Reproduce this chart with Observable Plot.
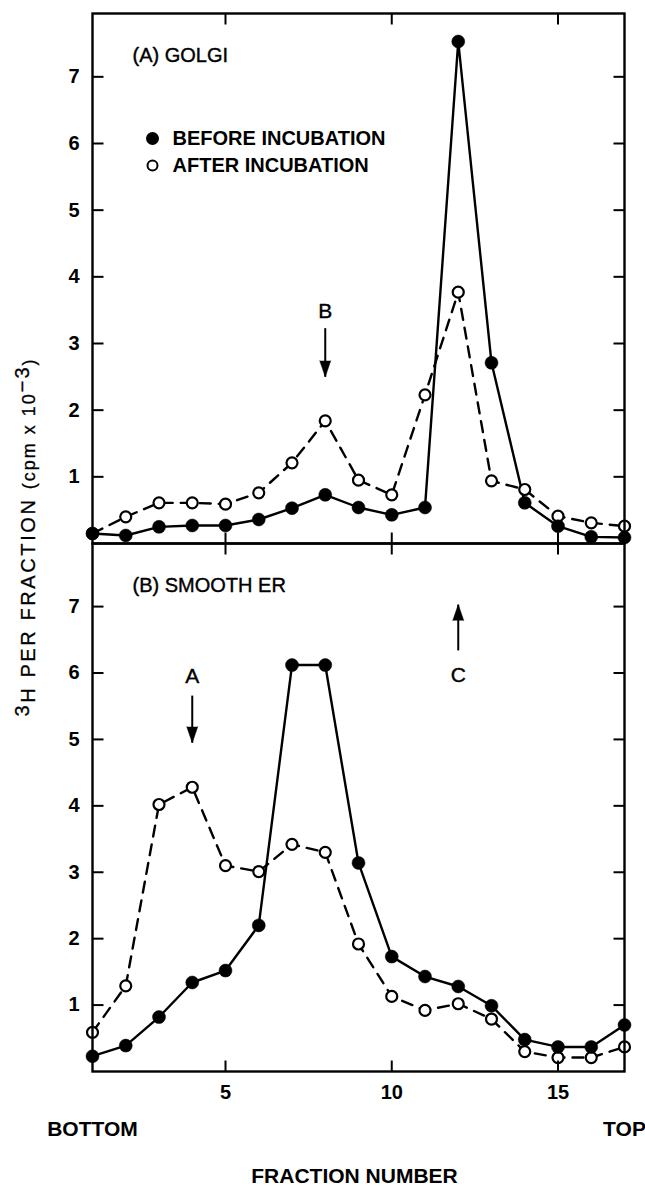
<!DOCTYPE html>
<html><head><meta charset="utf-8">
<script src="https://cdn.jsdelivr.net/npm/d3@7"></script>
<script src="https://cdn.jsdelivr.net/npm/@observablehq/plot@0.6"></script>
<style>
body{margin:0;background:#fff;}
#wrap{position:relative;width:645px;height:1186px;overflow:hidden;font-family:"Liberation Sans",Arial,sans-serif;color:#000;}
#wrap > svg{position:absolute;left:0;overflow:visible;background:transparent;}
#ylab{position:absolute;left:28px;top:537px;transform:translate(-50%,-50%) rotate(-90deg);white-space:nowrap;font-size:20px;letter-spacing:2.6px;-webkit-text-stroke:0.3px #000;}
#ylab sup{font-size:20px;vertical-align:0.3em;line-height:0;}
#ylab .sm{font-size:18px;letter-spacing:2px;}
</style></head><body><div id="wrap"><div id="ylab"><sup>3</sup>H PER FRACTION <span class="sm">(cpm x 10<sup>−3</sup>)</span></div></div>
<script>
const fractions = [1,2,3,4,5,6,7,8,9,10,11,12,13,14,15,16,17];
const golgiBefore = [0.15,0.12,0.25,0.27,0.27,0.36,0.53,0.73,0.54,0.43,0.54,7.53,2.71,0.61,0.26,0.1,0.09];
const golgiAfter  = [0.15,0.4,0.61,0.61,0.59,0.76,1.21,1.84,0.95,0.73,2.23,3.77,0.94,0.81,0.41,0.31,0.26];
const erBefore = [0.23,0.39,0.82,1.34,1.52,2.2,6.12,6.12,3.14,1.73,1.43,1.28,0.99,0.48,0.37,0.37,0.7];
const erAfter  = [0.59,1.29,4.02,4.28,3.1,3.01,3.42,3.3,1.92,1.13,0.92,1.02,0.79,0.3,0.21,0.21,0.37];
const yTicks = [1,2,3,4,5,6,7];
const xTicks = [5,10,15];
const panelLabels = ["(A) GOLGI","(B) SMOOTH ER"];
const legendLabels = ["BEFORE INCUBATION","AFTER INCUBATION"];
const xTitle = "FRACTION NUMBER";
const endLabels = [{x:1,t:"BOTTOM"},{x:17,t:"TOP"}];
// annotation arrows (fraction, label value, tail value, tip value)
const golgiArrows = [{x:8,label:"B",ly:3.48,y1:3.23,y2:2.5}];
const erArrows = [{x:4,label:"A",ly:5.95,y1:5.66,y2:4.95},{x:12,label:"C",ly:5.96,y1:6.34,y2:7.03}];

const XD = [1,17], YD = [0,7.95];
const W = 645, ML = 92, MR = 21, MT = 13;
const FW = W - ML - MR;
const TICK = 11;
const ink = "#000";
const rows = (ys) => fractions.map((f,i)=>({x:f,y:ys[i]}));
const fmt = d3.format("d");

function arrowMarks(arr){
  return [
    Plot.link(arr,{x1:"x",x2:"x",y1:"y1",y2:"y2",stroke:ink,strokeWidth:2}),
    Plot.vector(arr,{x:"x",y:"y2",anchor:"end",length:16,r:5.5,shape:"spike",rotate:d=>d.y2<d.y1?180:0,fill:ink,stroke:ink,strokeWidth:0.5}),
    Plot.text(arr,{x:"x",y:"ly",text:"label",fontSize:21,fill:ink,stroke:ink,strokeWidth:0.4,lineAnchor:"middle"})
  ];
}

function axisMarks(FH, showBottomLabels){
  // inward tick lengths expressed through the scales' pixel-per-unit ratio
  const dxu = TICK * (XD[1]-XD[0]) / FW;
  const dyu = TICK * (YD[1]-YD[0]) / FH;
  const tk = {stroke:ink,strokeWidth:2};
  const marks = [
    Plot.link(yTicks,{x1:()=>XD[0],x2:()=>XD[0]+dxu,y1:d=>d,y2:d=>d,...tk}),
    Plot.link(yTicks,{x1:()=>XD[1]-dxu,x2:()=>XD[1],y1:d=>d,y2:d=>d,...tk}),
    Plot.link(xTicks,{x1:d=>d,x2:d=>d,y1:()=>YD[1],y2:()=>YD[1]-dyu,...tk}),
    Plot.link(xTicks,{x1:d=>d,x2:d=>d,y1:()=>YD[0],y2:()=>YD[0]+dyu,...tk}),
    Plot.axisY(yTicks,{anchor:"left",tickSize:0,tickPadding:13,tickFormat:fmt,label:null,fontSize:20,fontWeight:"bold",fill:ink}),
  ];
  if(showBottomLabels){
    marks.push(Plot.axisX(xTicks,{anchor:"bottom",tickSize:0,tickPadding:13,tickFormat:fmt,label:null,fontSize:20,fontWeight:"bold",fill:ink}));
  }
  return marks;
}

function seriesMarks(before, after){
  return [
    Plot.line(rows(after),{x:"x",y:"y",stroke:ink,strokeWidth:2.4,strokeDasharray:"11,8"}),
    Plot.line(rows(before),{x:"x",y:"y",stroke:ink,strokeWidth:2.4}),
    Plot.dot(rows(after),{x:"x",y:"y",r:5.5,fill:"#fff",stroke:ink,strokeWidth:2.2}),
    Plot.dot(rows(before),{x:"x",y:"y",r:6.5,fill:ink,stroke:ink,strokeWidth:0.5}),
  ];
}

const common = {
  width: W, marginLeft: ML, marginRight: MR, marginTop: MT,
  x: {domain:XD, axis:null}, y: {domain:YD, axis:null},
  style: {fontFamily:'"Liberation Sans", Arial, sans-serif', background:"transparent", color:ink, overflow:"visible"}
};
const legendFont = '"Liberation Sans Narrow", "Liberation Sans", sans-serif';
const labelStyle = {fontSize:20,textAnchor:"start",lineAnchor:"middle",fill:ink,stroke:ink,strokeWidth:0.4};

const H1 = 560, MB1 = 17;
const golgiPlot = Plot.plot({
  ...common, height: H1, marginBottom: MB1,
  marks: [
    ...seriesMarks(golgiBefore, golgiAfter),
    ...axisMarks(H1 - MT - MB1, false),
    Plot.frame({stroke:ink,strokeWidth:2.4}),
    Plot.text([panelLabels[0]],{frameAnchor:"top-left",dx:40,dy:42,text:d=>d,...labelStyle}),
    Plot.dot([legendLabels[0]],{frameAnchor:"top-left",dx:60,dy:125,r:6.5,fill:ink}),
    Plot.dot([legendLabels[1]],{frameAnchor:"top-left",dx:60,dy:152,r:5,fill:"#fff",stroke:ink,strokeWidth:2}),
    Plot.text([legendLabels[0]],{frameAnchor:"top-left",dx:80,dy:125,text:d=>d,fontSize:20,fontWeight:"bold",textAnchor:"start",lineAnchor:"middle",fill:ink,fontFamily:legendFont,letterSpacing:1.2}),
    Plot.text([legendLabels[1]],{frameAnchor:"top-left",dx:80,dy:152,text:d=>d,fontSize:20,fontWeight:"bold",textAnchor:"start",lineAnchor:"middle",fill:ink,fontFamily:legendFont,letterSpacing:1.2}),
    ...arrowMarks(golgiArrows)
  ]
});

const H2 = 656, MB2 = 115;
const erPlot = Plot.plot({
  ...common, height: H2, marginBottom: MB2,
  marks: [
    ...seriesMarks(erBefore, erAfter),
    ...axisMarks(H2 - MT - MB2, true),
    Plot.frame({stroke:ink,strokeWidth:2.4}),
    Plot.text([panelLabels[1]],{frameAnchor:"top-left",dx:40,dy:42,text:d=>d,...labelStyle}),
    Plot.text(endLabels,{x:"x",text:"t",frameAnchor:"bottom",dy:58,fontSize:21,fontWeight:"bold",lineAnchor:"middle",fill:ink}),
    Plot.text([xTitle],{frameAnchor:"bottom",dy:105,dx:-4,text:d=>d,fontSize:21,fontWeight:"bold",letterSpacing:1,lineAnchor:"middle",fill:ink}),
    ...arrowMarks(erArrows)
  ]
});

const wrap = document.getElementById("wrap");
golgiPlot.style.top = "0px";
erPlot.style.top = "530px";
wrap.appendChild(golgiPlot);
wrap.appendChild(erPlot);
</script>
</body></html>
